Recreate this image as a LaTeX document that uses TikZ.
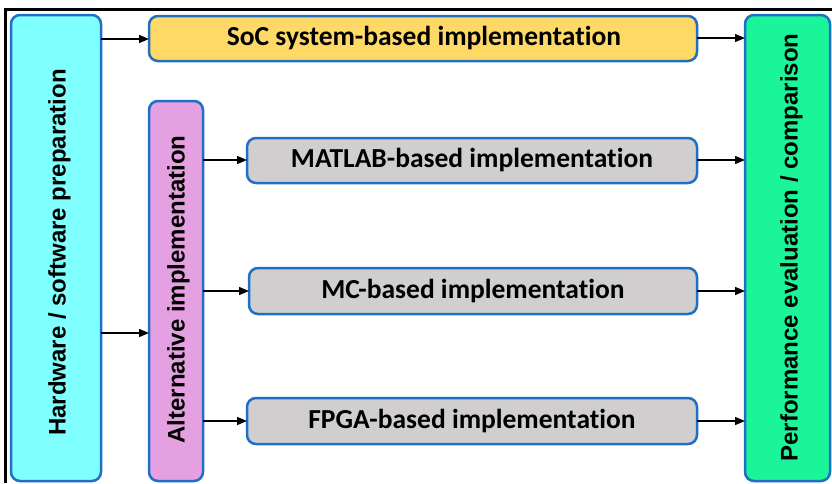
\documentclass[tikz,border=0pt]{standalone}
\usepackage{fontspec}
\setmainfont{Carlito}[RawFeature={-liga}]
\newfontfamily\myvertfont{Liberation Sans}[BoldFont={Liberation Sans Bold}]
\usetikzlibrary{arrows.meta}
\definecolor{bordblue}{HTML}{1F6FC4}
\definecolor{cyanfill}{HTML}{80FFFF}
\definecolor{pinkfill}{HTML}{E4A0E0}
\definecolor{yellowfill}{HTML}{FFD966}
\definecolor{grayfill}{HTML}{D0CECE}
\definecolor{greenfill}{HTML}{1AF59A}
\tikzset{
  boxbase/.style={draw=bordblue, line width=2.5pt, rounded corners=9pt},
  lbl/.style={font=\fontsize{27.5}{30}\selectfont\bfseries, text=black, inner sep=0pt},
  vlbl/.style={font={\myvertfont\bfseries\fontsize{24}{28}\selectfont}, text=black, rotate=90, inner sep=0pt, anchor=base},
  conn/.style={-{Triangle[length=10pt,width=8pt]}, line width=1.4pt, black},
}
\begin{document}
\begin{tikzpicture}[x=1pt,y=-1pt]
\useasboundingbox (0,0) rectangle (832,483);
% frame
\draw[line width=2.8pt] (5.5,483) -- (5.5,9.5) -- (832,9.5);
% boxes
\draw[boxbase, fill=cyanfill] (11,15) rectangle (101,481);
\draw[boxbase, fill=yellowfill] (149,16) rectangle (697,61);
\draw[boxbase, fill=pinkfill] (149,101) rectangle (203,481);
\draw[boxbase, fill=grayfill] (247,138) rectangle (697,183);
\draw[boxbase, fill=grayfill] (249,268) rectangle (697,314);
\draw[boxbase, fill=grayfill] (247,398) rectangle (697,444);
\draw[boxbase, fill=greenfill] (745,15) rectangle (830,481);
% nodes (labels)
\node[vlbl] (hw) at (65.5,252.5) {Hardware / software preparation};
\node[lbl] (soc) at (424,38.5) {SoC system-based implementation};
\node[vlbl] (alt) at (184.5,289.5) {Alternative implementation};
\node[lbl] (matlab) at (472,160.5) {MATLAB-based implementation};
\node[lbl] (mc) at (473,291) {MC-based implementation};
\node[lbl] (fpga) at (472,421) {FPGA-based implementation};
\node[vlbl] (perf) at (797.5,247.5) {Performance evaluation / comparison};
% anchor coordinates on box edges
\coordinate (hwR1) at (101,39);
\coordinate (hwR2) at (101,333);
\coordinate (socL) at (149,39);
\coordinate (socR) at (697,38);
\coordinate (altT) at (149,333);
\coordinate (altR1) at (203,160);
\coordinate (altR2) at (203,291);
\coordinate (altR3) at (203,421);
\coordinate (matL) at (247,160);
\coordinate (matR) at (697,160);
\coordinate (mcL) at (249,291);
\coordinate (mcR) at (697,291);
\coordinate (fpL) at (247,421);
\coordinate (fpR) at (697,421);
\coordinate (pf1) at (745,38);
\coordinate (pf2) at (745,160);
\coordinate (pf3) at (745,291);
\coordinate (pf4) at (745,421);
% connectors
\draw[conn] (hwR1) -- (socL);
\draw[conn] (hwR2) -- (altT);
\draw[conn] (altR1) -- (matL);
\draw[conn] (altR2) -- (mcL);
\draw[conn] (altR3) -- (fpL);
\draw[conn] (socR) -- (pf1);
\draw[conn] (matR) -- (pf2);
\draw[conn] (mcR) -- (pf3);
\draw[conn] (fpR) -- (pf4);
\end{tikzpicture}
\end{document}
